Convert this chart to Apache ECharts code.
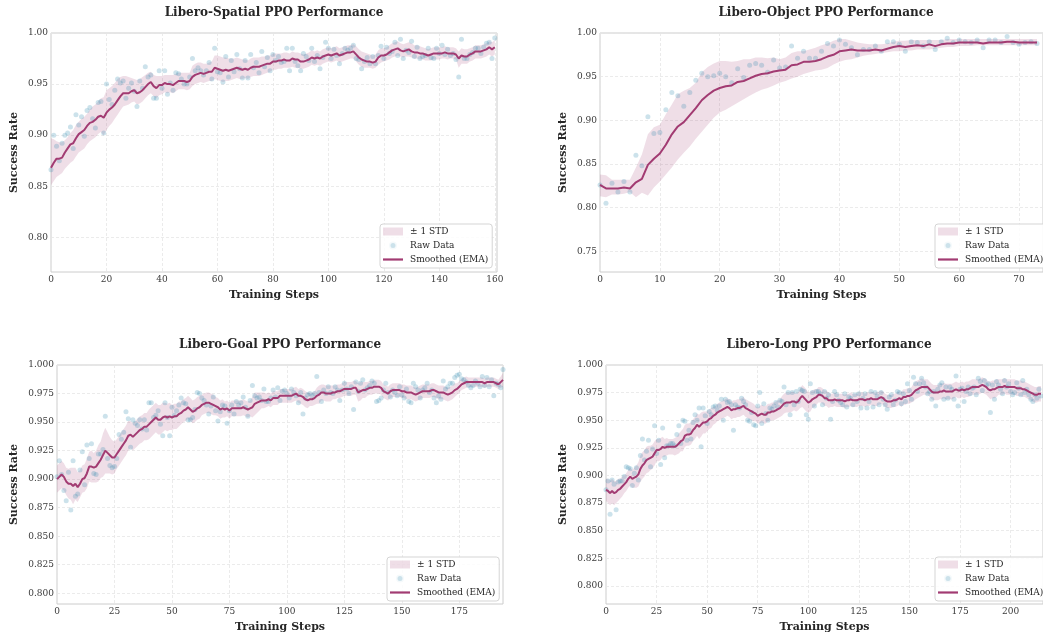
<!DOCTYPE html>
<html>
<head>
<meta charset="utf-8">
<script src="https://cdn.jsdelivr.net/npm/echarts@6/dist/echarts.min.js"></script>
<style>
html,body{margin:0;padding:0;background:#fff;}
#c{width:1043px;height:634px;}
</style>
</head>
<body>
<div id="c"></div>
<script>
// ---------------- DATA ----------------
const spatialRaw = [
.866,.900,.889,.875,.892,.900,.902,.908,.887,.920,
.910,.918,.899,.924,.927,.916,.907,.932,.933,.902,
.950,.935,.930,.944,.955,.951,.953,.936,.946,.951,
.943,.928,.953,.946,.967,.957,.959,.936,.936,.963,
.946,.963,.940,.951,.944,.961,.960,.955,.950,.950,
.957,.975,.963,.966,.963,.959,.963,.971,.955,.985,
.962,.961,.952,.977,.957,.973,.962,.979,.965,.956,
.973,.956,.979,.966,.971,.961,.982,.967,.976,.963,
.979,.973,.977,.971,.972,.985,.963,.985,.972,.968,
.963,.980,.977,.973,.985,.972,.978,.965,.976,.991,
.985,.975,.984,.978,.970,.980,.985,.983,.985,.988,
.975,.974,.965,.972,.976,.970,.977,.970,.978,.987,
.975,.986,.980,.982,.991,.978,.994,.975,.983,.981,
.992,.977,.986,.975,.977,.978,.985,.976,.975,.985,
.980,.988,.979,.984,.978,.980,.974,.957,.994,.975,
.975,.979,.981,.985,.985,.980,.986,.990,.991,.975,
.995];
const spatialEma = [
.868,.873,.877,.877,.878,.883,.887,.891,.892,.897,
.901,.903,.905,.909,.912,.913,.915,.918,.919,.917,
.922,.925,.927,.930,.934,.938,.941,.941,.941,.943,
.944,.941,.942,.944,.947,.950,.952,.948,.946,.949,
.949,.951,.950,.950,.949,.951,.953,.953,.953,.952,
.953,.957,.959,.960,.961,.960,.961,.962,.962,.966,
.965,.964,.963,.964,.963,.964,.965,.966,.965,.964,
.965,.964,.966,.967,.967,.967,.968,.969,.970,.970,
.972,.972,.973,.973,.974,.973,.973,.975,.974,.974,
.972,.972,.973,.974,.976,.975,.976,.975,.977,.978,
.979,.978,.979,.980,.978,.979,.980,.981,.981,.982,
.979,.976,.974,.973,.972,.972,.971,.972,.976,.978,
.978,.979,.981,.983,.984,.985,.983,.982,.983,.984,
.982,.981,.981,.980,.980,.979,.978,.979,.980,.980,
.980,.980,.981,.980,.980,.980,.979,.975,.978,.977,
.977,.979,.980,.982,.982,.982,.983,.984,.986,.984,
.986];
const spatialHi = [
.897,.896,.894,.893,.893,.895,.898,.902,.905,.910,
.913,.916,.918,.921,.925,.928,.930,.933,.936,.937,
.944,.946,.948,.951,.955,.957,.958,.958,.957,.956,
.955,.954,.955,.957,.959,.961,.962,.959,.958,.958,
.958,.959,.959,.959,.959,.960,.961,.961,.961,.961,
.961,.968,.970,.971,.971,.970,.970,.971,.972,.978,
.978,.977,.976,.976,.975,.975,.975,.976,.975,.974,
.974,.973,.975,.976,.976,.976,.977,.977,.978,.978,
.980,.980,.980,.980,.981,.981,.980,.982,.981,.981,
.980,.979,.980,.981,.983,.982,.983,.982,.984,.985,
.986,.985,.986,.987,.985,.986,.987,.988,.988,.989,
.987,.984,.982,.981,.980,.979,.978,.979,.983,.985,
.985,.986,.988,.990,.991,.992,.990,.989,.990,.991,
.990,.988,.988,.987,.986,.985,.984,.985,.986,.986,
.986,.986,.987,.986,.986,.986,.985,.982,.985,.984,
.984,.985,.986,.988,.988,.988,.989,.990,.992,.991,
.993];
const spatialLo = [
.851,.855,.859,.861,.863,.867,.870,.873,.875,.879,
.883,.885,.887,.891,.894,.896,.898,.901,.903,.900,
.905,.909,.912,.916,.920,.924,.928,.929,.930,.932,
.933,.930,.931,.933,.936,.939,.941,.938,.936,.939,
.940,.942,.941,.942,.941,.943,.945,.945,.945,.944,
.945,.948,.950,.951,.952,.951,.952,.953,.953,.955,
.954,.953,.952,.953,.953,.954,.955,.956,.955,.955,
.956,.955,.957,.958,.958,.958,.959,.960,.961,.962,
.964,.964,.965,.965,.966,.966,.966,.967,.966,.966,
.965,.965,.966,.967,.969,.968,.969,.968,.970,.971,
.972,.971,.972,.973,.971,.972,.973,.974,.975,.975,
.972,.969,.967,.966,.966,.966,.965,.966,.969,.971,
.972,.973,.974,.976,.977,.978,.977,.976,.977,.977,
.976,.975,.975,.974,.974,.973,.973,.973,.974,.974,
.974,.975,.975,.974,.975,.975,.974,.966,.970,.970,
.970,.972,.973,.975,.975,.975,.976,.977,.979,.977,
.979];

const objectRaw = [
.826,.805,.828,.818,.830,.818,.860,.848,.904,.885,
.886,.912,.932,.928,.916,.932,.946,.954,.950,.951,
.954,.950,.943,.959,.949,.963,.965,.963,.955,.969,
.960,.961,.985,.971,.979,.971,.971,.979,.988,.985,
.992,.987,.983,.975,.981,.981,.985,.979,.990,.990,
.987,.979,.990,.989,.985,.990,.981,.990,.994,.989,
.992,.990,.989,.992,.983,.992,.992,.989,.996,.989,
.987,.989,.990,.988];
const objectEma = [
.826,.822,.822,.822,.823,.822,.829,.833,.849,.856,
.862,.872,.884,.893,.898,.906,.914,.923,.929,.934,
.937,.939,.940,.944,.945,.948,.951,.953,.954,.956,
.957,.958,.963,.964,.967,.967,.968,.970,.973,.975,
.979,.980,.981,.980,.980,.980,.981,.980,.982,.984,
.985,.984,.985,.986,.985,.987,.985,.987,.988,.988,
.989,.989,.989,.989,.988,.989,.989,.989,.990,.990,
.989,.989,.989,.989];
const objectHi = [
.838,.837,.832,.832,.832,.832,.846,.861,.884,.892,
.895,.907,.918,.930,.934,.937,.943,.955,.961,.965,
.968,.968,.967,.968,.970,.970,.972,.972,.971,.972,
.970,.972,.977,.979,.979,.981,.983,.986,.988,.991,
.993,.993,.991,.989,.988,.987,.987,.987,.988,.990,
.991,.991,.992,.992,.992,.992,.992,.992,.993,.993,
.993,.993,.993,.993,.993,.993,.993,.993,.993,.993,
.993,.993,.993,.993];
const objectLo = [
.813,.812,.815,.815,.816,.818,.812,.817,.814,.823,
.830,.838,.846,.855,.863,.870,.879,.887,.895,.903,
.909,.912,.916,.920,.924,.928,.932,.935,.937,.940,
.943,.945,.948,.950,.953,.955,.957,.958,.960,.964,
.967,.969,.970,.972,.974,.975,.976,.977,.978,.979,
.979,.980,.980,.981,.981,.981,.982,.983,.984,.984,
.985,.985,.985,.986,.986,.986,.986,.986,.986,.986,
.986,.986,.986,.986];

const goalRaw = [
.902,.916,.904,.890,.881,.906,.873,.916,.885,.887,
.908,.924,.895,.930,.918,.931,.905,.904,.922,.922,
.926,.955,.918,.912,.910,.911,.918,.939,.935,.941,
.959,.953,.928,.952,.949,.947,.952,.944,.952,.943,
.967,.967,.954,.956,.960,.948,.938,.967,.954,.938,
.963,.956,.960,.965,.971,.967,.966,.952,.952,.954,
.961,.976,.975,.971,.969,.965,.957,.964,.972,.960,
.951,.959,.965,.964,.949,.960,.965,.957,.968,.965,
.967,.972,.963,.955,.969,.982,.973,.971,.972,.969,
.979,.968,.968,.971,.978,.972,.980,.969,.977,.978,
.975,.971,.979,.976,.973,.967,.976,.957,.971,.974,
.975,.973,.975,.990,.976,.968,.978,.975,.981,.976,
.975,.981,.978,.969,.978,.984,.979,.975,.981,.961,
.985,.977,.984,.987,.978,.980,.982,.986,.984,.968,
.969,.971,.978,.984,.976,.972,.978,.976,.973,.981,
.974,.971,.979,.968,.967,.984,.981,.978,.971,.978,
.980,.984,.976,.978,.971,.967,.973,.970,.986,.979,
.981,.984,.984,.989,.991,.992,.988,.987,.985,.982,
.980,.982,.986,.984,.981,.990,.982,.989,.981,.987,
.973,.984,.983,.980,.996];
const goalEma = [
.900,.902,.904,.902,.898,.896,.896,.894,.896,.893,
.896,.900,.901,.905,.911,.911,.910,.911,.914,.917,
.921,.925,.923,.921,.919,.919,.922,.925,.928,.931,
.934,.938,.939,.937,.939,.941,.943,.944,.946,.946,
.948,.950,.952,.954,.952,.952,.954,.955,.954,.955,
.954,.955,.955,.957,.958,.960,.961,.963,.961,.959,
.960,.962,.963,.965,.966,.967,.967,.966,.965,.964,
.963,.961,.962,.961,.962,.960,.962,.962,.962,.962,
.962,.963,.962,.961,.962,.963,.966,.967,.968,.969,
.969,.969,.970,.969,.971,.971,.971,.973,.973,.973,
.973,.973,.973,.974,.975,.973,.973,.972,.970,.969,
.970,.970,.971,.973,.974,.976,.976,.975,.975,.975,
.976,.976,.977,.977,.978,.979,.979,.979,.979,.980,
.980,.976,.977,.978,.978,.979,.980,.980,.981,.981,
.981,.980,.977,.976,.975,.977,.978,.978,.978,.978,
.977,.977,.976,.976,.976,.975,.974,.975,.976,.977,
.977,.977,.977,.978,.978,.977,.976,.976,.976,.975,
.974,.975,.976,.978,.979,.981,.983,.984,.985,.985,
.985,.985,.985,.985,.985,.985,.984,.985,.985,.985,
.985,.984,.983,.985,.987];
const goalStd = [
.012,.012,.012,.012,.012,.013,.014,.016,.014,.013,
.012,.012,.012,.013,.013,.014,.013,.014,.016,.016,
.019,.020,.018,.016,.015,.014,.013,.013,.013,.013,
.013,.013,.012,.012,.012,.012,.012,.012,.012,.012,
.013,.013,.013,.013,.013,.013,.013,.012,.012,.012,
.011,.011,.011,.011,.010,.010,.010,.010,.010,.010,
.010,.010,.010,.009,.009,.009,.009,.009,.009,.008,
.008,.008,.008,.007,.007,.007,.007,.007,.007,.007,
.007,.007,.007,.007,.007,.009,.010,.009,.008,.007,
.007,.006,.006,.006,.006,.006,.006,.006,.006,.006,
.006,.006,.006,.006,.006,.006,.007,.007,.007,.007,
.006,.006,.006,.007,.008,.007,.007,.007,.007,.007,
.006,.006,.006,.006,.006,.006,.006,.006,.006,.006,
.006,.008,.008,.007,.007,.006,.006,.006,.006,.006,
.006,.006,.006,.006,.006,.006,.006,.006,.006,.006,
.006,.006,.006,.006,.006,.006,.006,.006,.006,.006,
.006,.006,.006,.006,.006,.006,.006,.006,.006,.006,
.006,.006,.006,.006,.005,.005,.005,.005,.005,.004,
.004,.004,.004,.004,.004,.004,.004,.004,.004,.004,
.004,.004,.004,.005,.006];

const longRaw = [
.887,.895,.865,.896,.892,.869,.894,.895,.895,.899,
.908,.907,.906,.891,.902,.907,.896,.918,.933,.914,
.922,.932,.908,.924,.945,.920,.932,.910,.943,.916,
.927,.927,.929,.929,.927,.937,.945,.929,.950,.949,
.932,.941,.933,.948,.955,.950,.961,.926,.961,.954,
.947,.958,.955,.962,.963,.959,.963,.969,.950,.969,
.966,.967,.964,.941,.964,.962,.961,.970,.967,.964,
.950,.949,.957,.946,.945,.963,.975,.947,.965,.956,
.950,.961,.960,.963,.966,.962,.968,.967,.980,.964,
.975,.955,.975,.964,.976,.967,.978,.977,.976,.955,
.951,.983,.975,.963,.976,.976,.974,.964,.976,.970,
.973,.951,.967,.976,.973,.968,.966,.964,.974,.962,
.971,.970,.964,.973,.967,.974,.961,.970,.974,.961,
.967,.976,.962,.975,.972,.964,.975,.969,.964,.960,
.971,.973,.964,.968,.976,.975,.965,.974,.967,.983,
.977,.969,.989,.983,.976,.983,.988,.984,.980,.974,
.976,.969,.976,.963,.978,.982,.984,.969,.980,.970,
.980,.978,.969,.990,.963,.978,.979,.967,.976,.980,
.974,.979,.980,.973,.988,.985,.977,.986,.982,.983,
.957,.982,.969,.985,.982,.978,.974,.986,.980,.983,
.976,.973,.975,.984,.979,.973,.986,.975,.978,.973,
.969,.967,.973,.970,.978,.972];
const longEma = [
.887,.886,.884,.886,.884,.885,.887,.888,.890,.892,
.894,.897,.899,.897,.898,.899,.901,.906,.909,.911,
.914,.915,.916,.917,.920,.923,.923,.924,.926,.925,
.926,.926,.926,.926,.926,.927,.929,.931,.932,.936,
.937,.937,.938,.941,.943,.946,.944,.946,.948,.948,
.949,.951,.952,.954,.955,.957,.958,.959,.960,.961,
.962,.961,.959,.960,.960,.961,.961,.962,.963,.961,
.960,.959,.958,.957,.956,.954,.955,.956,.955,.955,
.957,.957,.958,.958,.959,.960,.961,.963,.965,.966,
.966,.966,.967,.967,.966,.967,.970,.972,.970,.968,
.966,.967,.969,.970,.971,.973,.973,.972,.970,.970,
.968,.968,.968,.969,.968,.968,.968,.968,.967,.968,
.968,.969,.968,.968,.968,.969,.969,.969,.968,.969,
.969,.970,.969,.969,.969,.970,.971,.970,.968,.967,
.967,.967,.968,.968,.969,.970,.969,.971,.971,.972,
.972,.973,.975,.977,.978,.979,.980,.980,.980,.980,
.978,.976,.975,.975,.975,.976,.976,.977,.976,.976,
.976,.976,.977,.978,.977,.977,.978,.977,.978,.978,
.979,.980,.980,.980,.980,.981,.982,.981,.980,.978,
.977,.978,.978,.979,.980,.980,.980,.981,.980,.980,
.980,.980,.980,.979,.979,.979,.978,.978,.977,.976,
.975,.974,.973,.973,.974,.974];
const longStd = [
.010,.011,.011,.011,.011,.010,.010,.009,.009,.008,
.008,.008,.008,.008,.009,.010,.011,.012,.012,.012,
.012,.012,.011,.011,.011,.010,.010,.010,.009,.008,
.008,.007,.007,.007,.008,.008,.009,.009,.010,.010,
.010,.010,.010,.010,.010,.010,.011,.011,.010,.010,
.009,.009,.009,.008,.008,.008,.008,.008,.008,.008,
.008,.008,.008,.008,.008,.008,.008,.008,.008,.008,
.008,.008,.008,.008,.007,.007,.008,.008,.008,.008,
.008,.008,.008,.008,.008,.008,.008,.009,.009,.009,
.009,.009,.009,.008,.008,.008,.009,.010,.010,.010,
.009,.009,.008,.008,.007,.007,.007,.007,.007,.007,
.007,.006,.006,.006,.006,.006,.006,.006,.006,.006,
.006,.006,.006,.006,.006,.006,.006,.006,.006,.006,
.006,.006,.006,.006,.006,.006,.006,.006,.006,.006,
.006,.006,.006,.006,.006,.006,.007,.007,.007,.007,
.007,.007,.008,.008,.008,.008,.008,.007,.007,.007,
.007,.007,.007,.007,.007,.007,.007,.007,.007,.007,
.007,.007,.007,.007,.007,.007,.007,.007,.007,.007,
.007,.007,.007,.007,.007,.007,.007,.007,.007,.007,
.008,.008,.008,.008,.007,.007,.007,.007,.007,.007,
.007,.007,.007,.007,.007,.007,.007,.007,.007,.007,
.007,.007,.007,.007,.007,.007];

const spatialXTicks = [0,20,40,60,80,100,120,140,160];
const objectXTicks = [0,10,20,30,40,50,60,70];
const goalXTicks = [0,25,50,75,100,125,150,175];
const longXTicks = [0,25,50,75,100,125,150,175,200];
const spatialYTicks = [0.80,0.85,0.90,0.95,1.00];
const objectYTicks = [0.75,0.80,0.85,0.90,0.95,1.00];
const goalYTicks = [0.800,0.825,0.850,0.875,0.900,0.925,0.950,0.975,1.000];
const longYTicks = [0.800,0.825,0.850,0.875,0.900,0.925,0.950,0.975,1.000];

const titles = ['Libero-Spatial PPO Performance','Libero-Object PPO Performance','Libero-Goal PPO Performance','Libero-Long PPO Performance'];
const legendNames = ['± 1 STD','Raw Data','Smoothed (EMA)'];

// ---------------- STYLE / LAYOUT ----------------
const FONT = 'DejaVu Serif';
const EMA_COLOR = '#A23B72';
const BAND_COLOR = 'rgba(162,59,114,0.17)';
const RAW_COLOR = 'rgba(46,134,171,0.30)';
const TEXT = '#262626';

const panels = [
  {raw:spatialRaw, ema:spatialEma, lo:spatialLo, hi:spatialHi, xTicks:spatialXTicks, yTicks:spatialYTicks, yDec:2,
   xMax:160.8, yMin:0.766, yMax:1.0, grid:{left:51, top:33, width:446, height:239}, yGap:31, titleX:274, titleY:7, leg:[380,224]},
  {raw:objectRaw, ema:objectEma, lo:objectLo, hi:objectHi, xTicks:objectXTicks, yTicks:objectYTicks, yDec:2,
   xMax:74, yMin:0.7263, yMax:1.0, grid:{left:600, top:33, width:452, height:239}, yGap:31, titleX:826, titleY:7, leg:[935,224]},
  {raw:goalRaw, ema:goalEma, lo:goalEma.map((v,i)=>v-goalStd[i]), hi:goalEma.map((v,i)=>v+goalStd[i]), xTicks:goalXTicks, yTicks:goalYTicks, yDec:3,
   xMax:194, yMin:0.7906, yMax:1.0, grid:{left:57, top:365, width:446, height:239}, yGap:37, titleX:280, titleY:339, leg:[387,557]},
  {raw:longRaw, ema:longEma, lo:longEma.map((v,i)=>v-longStd[i]), hi:longEma.map((v,i)=>v+longStd[i]), xTicks:longXTicks, yTicks:longYTicks, yDec:3,
   xMax:216, yMin:0.7837, yMax:1.0, grid:{left:606, top:365, width:446, height:239}, yGap:37, titleX:829, titleY:339, leg:[935,557]}
];

const gridLine = {show:true, lineStyle:{color:'#e6e6e6', width:0.8, type:[3,2]}};
const option = {
  animation:false,
  backgroundColor:'#fff',
  title: panels.map((p,i)=>({text:titles[i], left:p.titleX, top:p.titleY, textAlign:'center', padding:0,
    textStyle:{fontFamily:FONT, fontWeight:'bold', fontSize:12, color:TEXT}})),
  grid: panels.map(p=>Object.assign({show:true, borderColor:'#cccccc', borderWidth:1, backgroundColor:'#fff', containLabel:false}, p.grid)),
  xAxis: panels.map((p,i)=>({type:'value', gridIndex:i, min:0, max:p.xMax,
    name:'Training Steps', nameLocation:'middle', nameGap:18,
    nameTextStyle:{fontFamily:FONT, fontWeight:'bold', fontSize:11, color:TEXT},
    axisLine:{show:false}, axisTick:{show:false, customValues:p.xTicks},
    axisLabel:{customValues:p.xTicks, margin:3, fontFamily:FONT, fontSize:9, color:'#3a3a3a', formatter:v=>String(Math.round(v))},
    splitLine:gridLine})),
  yAxis: panels.map((p,i)=>({type:'value', gridIndex:i, min:p.yMin, max:p.yMax,
    name:'Success Rate', nameLocation:'middle', nameGap:p.yGap,
    nameTextStyle:{fontFamily:FONT, fontWeight:'bold', fontSize:11, color:TEXT},
    axisLine:{show:false}, axisTick:{show:false, customValues:p.yTicks},
    axisLabel:{customValues:p.yTicks, margin:3, fontFamily:FONT, fontSize:9, color:'#3a3a3a', formatter:v=>v.toFixed(p.yDec)},
    splitLine:gridLine})),
  legend: panels.map(p=>({left:p.leg[0], top:p.leg[1], orient:'vertical', itemWidth:20, itemHeight:8, itemGap:3,
    padding:[2,4,3,3], borderColor:'#d5d5d5', borderWidth:1, borderRadius:3, backgroundColor:'rgba(255,255,255,0.85)',
    selectedMode:false, textStyle:{fontFamily:FONT, fontSize:9, color:TEXT, lineHeight:11, padding:[0,0,0,2]},
    data:[
      {name:legendNames[0], icon:'rect', itemStyle:{color:BAND_COLOR}},
      {name:legendNames[1], icon:'circle', itemStyle:{color:RAW_COLOR, borderColor:'#fff', borderWidth:3}},
      {name:legendNames[2], icon:'path://M0,0L20,0L20,2.2L0,2.2Z', itemStyle:{color:EMA_COLOR, borderWidth:0}}
    ]})),
  series: []
};

panels.forEach((p,i)=>{
  const lo = p.lo, hi = p.hi;
  option.series.push({
    type:'custom', name:legendNames[0], xAxisIndex:i, yAxisIndex:i, z:1, silent:true, clip:true,
    itemStyle:{color:BAND_COLOR},
    data: lo.map((v,k)=>[k, v, hi[k]]),
    encode:{x:0, y:[1,2]},
    renderItem:(params, api)=>{
      if (params.dataIndex !== 0) return null;
      const pts = [];
      for (let k=0;k<hi.length;k++) pts.push(api.coord([k, hi[k]]));
      for (let k=lo.length-1;k>=0;k--) pts.push(api.coord([k, lo[k]]));
      return {type:'polygon', shape:{points:pts}, style:{fill:BAND_COLOR}};
    }
  });
  option.series.push({
    type:'scatter', name:legendNames[1], xAxisIndex:i, yAxisIndex:i, z:2, silent:true,
    symbolSize:5, itemStyle:{color:RAW_COLOR},
    data: p.raw.map((v,k)=>[k, v])
  });
  option.series.push({
    type:'line', name:legendNames[2], xAxisIndex:i, yAxisIndex:i, z:3, silent:true,
    symbol:'none', showSymbol:false, lineStyle:{color:EMA_COLOR, width:2}, itemStyle:{color:EMA_COLOR},
    data: p.ema.map((v,k)=>[k, v])
  });
});

const chart = echarts.init(document.getElementById('c'), null, {renderer:'canvas'});
chart.setOption(option);
</script>
</body>
</html>
